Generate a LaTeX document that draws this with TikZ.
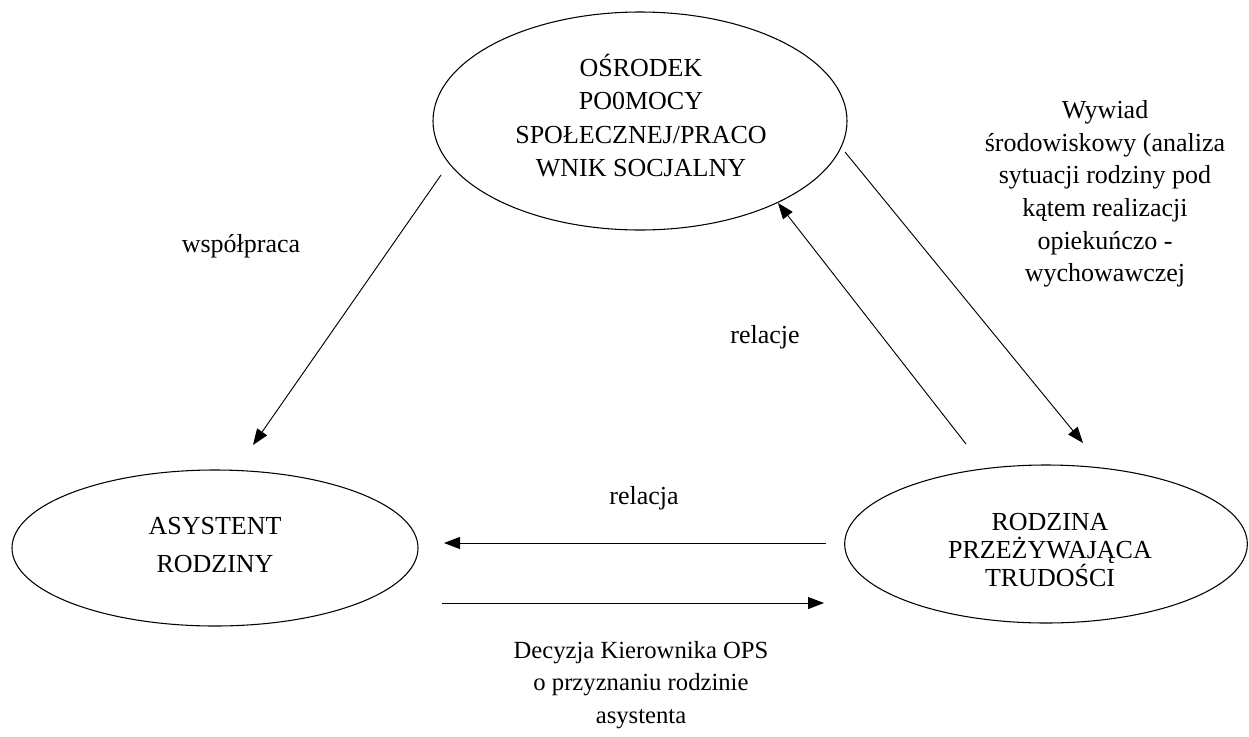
\documentclass[tikz,border=0pt]{standalone}
\usepackage{fontspec}
\setmainfont{Liberation Serif}
\usetikzlibrary{shapes.geometric,arrows.meta}
\tikzset{
  oval/.style={draw, ellipse, line width=0.8pt, inner sep=0pt},
  txt/.style={inner sep=0pt, align=center, font=\fontsize{19.5}{25}\selectfont},
  lbl/.style={inner sep=0pt, align=center, font=\fontsize{19.5}{24.5}\selectfont},
  conn/.style={line width=0.7pt, -{Triangle[length=12pt,width=9pt]}}
}
\begin{document}
\begin{tikzpicture}[x=0.75pt,y=-0.75pt]
\useasboundingbox (0,0) rectangle (1249,736);
% ellipses
\node[oval, minimum width=310.5pt, minimum height=163.5pt] (ops) at (640,121) {};
\node[oval, minimum width=304.5pt, minimum height=117pt] (asy) at (215,548) {};
\node[oval, minimum width=302pt, minimum height=118.5pt] (rod) at (1046,544) {};
% texts inside ellipses
\node[txt] (opstext) at (641,115.5)
  {OŚRODEK\\PO0MOCY\\SPOŁECZNEJ/PRACO\\WNIK SOCJALNY};
\node[txt, font=\fontsize{19.5}{28.5}\selectfont] (asytext) at (215,545)
  {ASYSTENT\\RODZINY};
\node[txt, font=\fontsize{19.5}{21}\selectfont] (rodtext) at (1050,550)
  {RODZINA\\PRZEŻYWAJĄCA\\TRUDOŚCI};
% labels
\node[lbl] (lwsp) at (241,246) {współpraca};
\node[lbl] (lrelacje) at (765,337) {relacje};
\node[lbl] (lrelacja) at (644,498) {relacja};
\node[lbl] (lwyw) at (1105,194) {Wywiad\\środowiskowy (analiza\\sytuacji rodziny pod\\kątem realizacji\\opiekuńczo -\\wychowawczej};
\node[lbl, font=\fontsize{18.5}{24.5}\selectfont] (ldec) at (641,685) {Decyzja Kierownika OPS\\o przyznaniu rodzinie\\asystenta};
% connector ends
\coordinate (a1) at (441,175);
\coordinate (a2) at (253,445);
\coordinate (b1) at (845,152);
\coordinate (b2) at (1083,443);
\coordinate (c1) at (966,444);
\coordinate (c2) at (778,203);
\coordinate (d1) at (826,543);
\coordinate (d2) at (444,543);
\coordinate (e1) at (442,603);
\coordinate (e2) at (824,603);
% connectors
\draw[conn] (a1) -- (a2);
\draw[conn] (b1) -- (b2);
\draw[conn] (c1) -- (c2);
\draw[conn] (d1) -- (d2);
\draw[conn] (e1) -- (e2);
\end{tikzpicture}
\end{document}
